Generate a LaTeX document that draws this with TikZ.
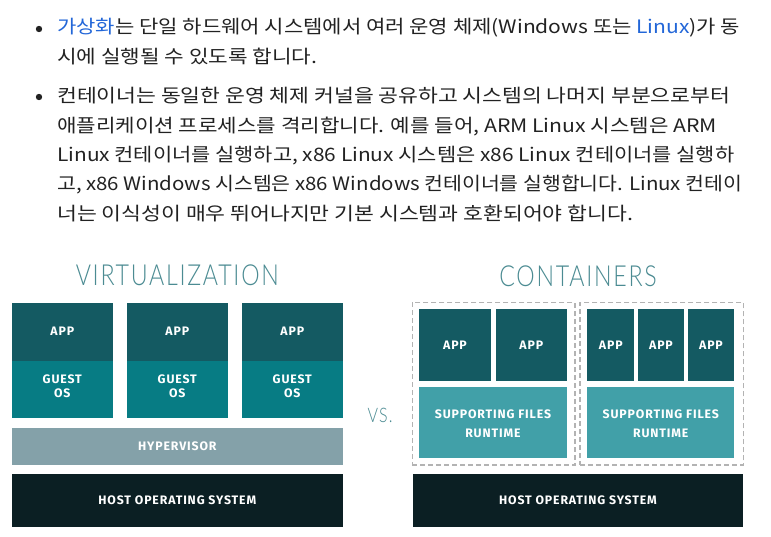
\documentclass[tikz,border=0pt]{standalone}
\usepackage{fontspec}
\newfontfamily\kr{Noto Sans CJK KR}
\newfontfamily\boxfont[LetterSpace=7]{Fira Sans Bold}
\newfontfamily\titlefont[FakeStretch=0.8,LetterSpace=6]{Lato Light}
\definecolor{appc}{HTML}{145A62}
\definecolor{guestc}{HTML}{077C84}
\definecolor{hyperc}{HTML}{84A1A9}
\definecolor{hostc}{HTML}{0B1F23}
\definecolor{suppc}{HTML}{41A0A8}
\definecolor{titlec}{HTML}{4B8B92}
\definecolor{dashc}{HTML}{B3B3B3}
\definecolor{linkc}{HTML}{2266D8}
\definecolor{txtc}{HTML}{222222}
\newcommand\fitline[2]{\resizebox{#1pt}{\height}{#2}}
\tikzset{
  txt/.style={anchor=base west, inner sep=0pt, font=\kr\fontsize{18.5}{22}\selectfont, text=txtc},
  blk/.style={draw=none, inner sep=0pt, text=white, align=center, font=\boxfont\fontsize{12.3}{13.5}\selectfont},
  dbox/.style={draw=dashc, line width=1.3pt, dash pattern=on 5pt off 3pt},
  ttl/.style={inner sep=0pt, text=titlec, font=\titlefont\fontsize{29}{32}\selectfont},
  lbl/.style={inner sep=0pt, text=white, align=center}
}
\begin{document}
\begin{tikzpicture}[x=1pt,y=-1pt]
\useasboundingbox[fill=white] (0,0) rectangle (771,537);
% bullets and text
\fill[txtc] (39,29) circle (3.2pt);
\fill[txtc] (39,97) circle (3.2pt);
\node[txt] (l1) at (57,34) {\fitline{683}{{\color{linkc}가상화}는 단일 하드웨어 시스템에서 여러 운영 체제(Windows 또는 {\color{linkc}Linux})가 동}};
\node[txt] (l2) at (57,63.3) {\fitline{260}{시에 실행될 수 있도록 합니다.}};
\node[txt] (m1) at (57,103) {\fitline{673}{컨테이너는 동일한 운영 체제 커널을 공유하고 시스템의 나머지 부분으로부터}};
\node[txt] (m2) at (57,132.3) {\fitline{660}{애플리케이션 프로세스를 격리합니다. 예를 들어, ARM Linux 시스템은 ARM}};
\node[txt] (m3) at (57,161.6) {\fitline{677}{Linux 컨테이너를 실행하고, x86 Linux 시스템은 x86 Linux 컨테이너를 실행하}};
\node[txt] (m4) at (57,191) {\fitline{685}{고, x86 Windows 시스템은 x86 Windows 컨테이너를 실행합니다. Linux 컨테이}};
\node[txt] (m5) at (57,220.3) {\fitline{576}{너는 이식성이 매우 뛰어나지만 기본 시스템과 호환되어야 합니다.}};
% titles
\node[ttl] (tv) at (177.3,275.5) {VIRTUALIZATION};
\node[ttl] (tc) at (578,276) {CONTAINERS};
\node[inner sep=0pt, text=titlec, font=\titlefont\fontsize{20}{22}\selectfont] (vs) at (380,415.5) {VS.};
% virtualization
\foreach \c/\n in {62.3/1,177.3/2,292.3/3}{
  \node[blk, fill=appc, minimum width=100.7pt, minimum height=58pt] (va\n) at (\c,331.7) {APP};
  \node[blk, fill=guestc, minimum width=100.7pt, minimum height=57.6pt] (vg\n) at (\c,389.5) {};
  \node[blk, lbl] (vgt\n) at (\c,386.3) {GUEST\\OS};
}
\node[blk, fill=hyperc, minimum width=330.7pt, minimum height=37.3pt] (hyp) at (177.3,446.3) {HYPERVISOR};
\node[blk, fill=hostc, minimum width=330.7pt, minimum height=52.4pt] (hv) at (177.3,500.5) {HOST OPERATING SYSTEM};
% containers
\node[dbox, minimum width=162.7pt, minimum height=162.7pt] (d1) at (493.7,383.7) {};
\node[dbox, minimum width=163.3pt, minimum height=162.7pt] (d2) at (661.7,383.7) {};
\node[blk, fill=appc, minimum width=71.4pt, minimum height=71.4pt] (ca1) at (455,345) {APP};
\node[blk, fill=appc, minimum width=70.7pt, minimum height=71.4pt] (ca2) at (531.3,345) {APP};
\node[blk, fill=suppc, minimum width=147.4pt, minimum height=71pt] (cs1) at (493,422.2) {};
\node[blk, lbl, font=\boxfont\fontsize{12.3}{19.3}\selectfont] (cs1t) at (493,424) {SUPPORTING FILES\\RUNTIME};
\node[blk, fill=appc, minimum width=47pt, minimum height=71.4pt] (ca3) at (610.8,345) {APP};
\node[blk, fill=appc, minimum width=46.6pt, minimum height=71.4pt] (ca4) at (661,345) {APP};
\node[blk, fill=appc, minimum width=46.6pt, minimum height=71.4pt] (ca5) at (711,345) {APP};
\node[blk, fill=suppc, minimum width=147pt, minimum height=71pt] (cs2) at (660.8,422.2) {};
\node[blk, lbl, font=\boxfont\fontsize{12.3}{19.3}\selectfont] (cs2t) at (660.8,424) {SUPPORTING FILES\\RUNTIME};
\node[blk, fill=hostc, minimum width=330.6pt, minimum height=52.4pt] (hc) at (578,500.5) {HOST OPERATING SYSTEM};
\end{tikzpicture}
\end{document}
